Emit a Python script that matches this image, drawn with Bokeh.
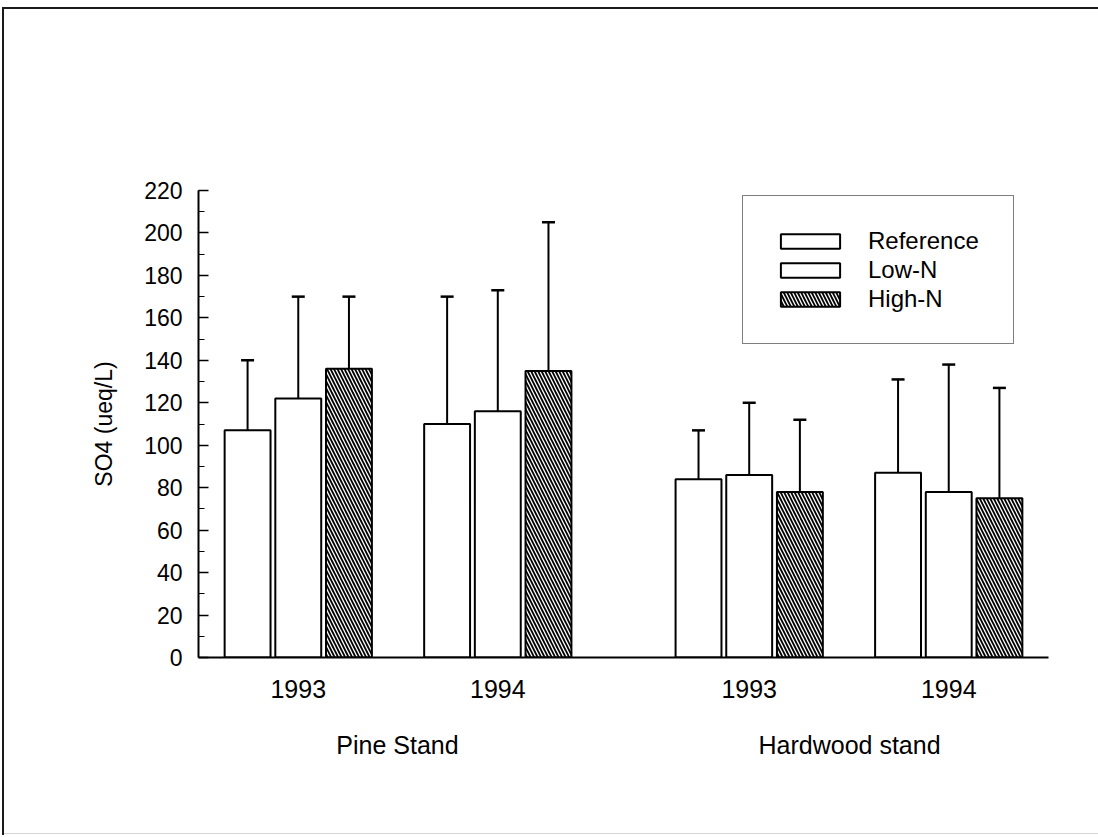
from bokeh.plotting import figure
from bokeh.models import (ColumnDataSource, FactorRange, Range1d, SingleIntervalTicker,
                          CategoricalAxis, Legend, LegendItem)
from bokeh.transform import dodge
from bokeh.embed import file_html
from bokeh.resources import INLINE

# ---- data -------------------------------------------------------------
stands = ["Pine Stand", "Hardwood stand"]
years = ["1993", "1994"]
treatments = ["Reference", "Low-N", "High-N"]

# mean SO4 (ueq/L), order: Pine 1993, Pine 1994, Hardwood 1993, Hardwood 1994
reference_mean = [107, 110, 84, 87]
low_n_mean = [122, 116, 86, 78]
high_n_mean = [136, 135, 78, 75]

# one standard deviation (drawn above the mean only)
reference_sd = [33, 60, 23, 44]
low_n_sd = [48, 57, 34, 60]
high_n_sd = [34, 70, 34, 52]

FONT = "Liberation Sans"
INK = "#1a1a1a"

groups = [(s, y) for s in stands for y in years]
means = {"ref": reference_mean, "low": low_n_mean, "high": high_n_mean}
sds = {"ref": reference_sd, "low": low_n_sd, "high": high_n_sd}

data = {"x": groups}
for k in means:
    data[k] = means[k]
    data[k + "_hi"] = [m + s for m, s in zip(means[k], sds[k])]
src = ColumnDataSource(data)

# ---- figure -----------------------------------------------------------
# page frame: a rule along the top and the left edge, faint rule at the bottom
page_frame = {
    "background-color": "white",
    "background-image": (f"linear-gradient({INK}, {INK}), linear-gradient({INK}, {INK}), "
                         "linear-gradient(#d4d4d4, #d4d4d4)"),
    "background-size": "1095px 2px, 2px 828px, 1096px 1px",
    "background-position": "3px 7px, 2px 7px, 2px 833px",
    "background-repeat": "no-repeat",
}

p = figure(
    width=1098, height=837,
    x_range=FactorRange(*groups, group_padding=0.26, factor_padding=0, range_padding=0),
    y_range=Range1d(0, 220),
    output_backend="svg", toolbar_location=None,
    min_border_left=198, min_border_right=50, min_border_top=190, min_border_bottom=180,
    background_fill_color="white", border_fill_color=None,
    styles=page_frame,
)
p.outline_line_color = None
p.xgrid.grid_line_color = None
p.ygrid.grid_line_color = None

# y axis: ticks pointing inward, labels every 20
yax = p.yaxis[0]
yax.ticker = SingleIntervalTicker(interval=20, num_minor_ticks=2)
yax.axis_line_width = 2
yax.axis_line_color = "black"
yax.major_tick_in = 10
yax.major_tick_out = 0
yax.major_tick_line_width = 1.5
yax.major_tick_line_color = "black"
yax.minor_tick_in = 6
yax.minor_tick_out = 0
yax.minor_tick_line_width = 1.2
yax.minor_tick_line_color = "black"
yax.major_label_standoff = 16
yax.major_label_text_font = FONT
yax.major_label_text_font_size = "23px"
yax.major_label_text_color = "black"
yax.axis_label = "SO4 (ueq/L)"
yax.axis_label_text_font = FONT
yax.axis_label_text_font_style = "normal"
yax.axis_label_text_font_size = "23px"
yax.axis_label_text_color = "black"
yax.axis_label_standoff = 24

# x axis: year labels; stand names go on a second axis below
xax = p.xaxis[0]
xax.axis_line_width = 2
xax.axis_line_color = "black"
xax.major_tick_line_color = None
xax.minor_tick_line_color = None
xax.major_tick_in = 0
xax.major_tick_out = 0
xax.major_label_standoff = 22
xax.major_label_text_font = FONT
xax.major_label_text_font_size = "25px"
xax.major_label_text_color = "black"
xax.group_text_font_size = "1px"
xax.group_text_color = None
xax.separator_line_color = None

p.extra_x_ranges = {"stand": FactorRange(*stands, factor_padding=0.136, range_padding=0)}
sax = CategoricalAxis(
    x_range_name="stand",
    axis_line_color=None, major_tick_line_color=None, minor_tick_line_color=None,
    major_tick_in=0, major_tick_out=0, major_label_standoff=30,
    major_label_text_font=FONT, major_label_text_font_size="25px",
    major_label_text_color="black",
)
p.add_layout(sax, "below")

# ---- bars and error bars ---------------------------------------------
offsets = [-0.254, 0.0, 0.254]
keys = ["ref", "low", "high"]
fills = [
    dict(hatch_pattern=" "),
    dict(hatch_pattern=" "),
    dict(hatch_pattern="\\", hatch_scale=7, hatch_weight=1.8, hatch_color="black"),
]

items = []
for name, key, off, fill in zip(treatments, keys, offsets, fills):
    xs = dodge("x", off, range=p.x_range)
    bar = p.vbar(x=xs, top=key, width=0.23, source=src,
                 fill_color="white", line_color="black", line_width=2, **fill)
    p.segment(x0=xs, y0=key, x1=xs, y1=key + "_hi", source=src,
              line_color="black", line_width=2)
    p.scatter(x=xs, y=key + "_hi", marker="dash", size=13, source=src,
              line_color="black", line_width=2.5)
    items.append(LegendItem(label=name, renderers=[bar]))

legend = Legend(
    items=items, location=(544, 313), margin=0,
    padding=30, spacing=0,
    glyph_width=74, glyph_height=18, label_width=115, label_height=29, label_standoff=21,
    label_text_font=FONT, label_text_font_size="24px", label_text_color="black",
    border_line_color="black", border_line_width=1.8,
    background_fill_color="white", background_fill_alpha=1,
)
p.add_layout(legend)

open("out.html", "w").write(file_html(p, INLINE))
